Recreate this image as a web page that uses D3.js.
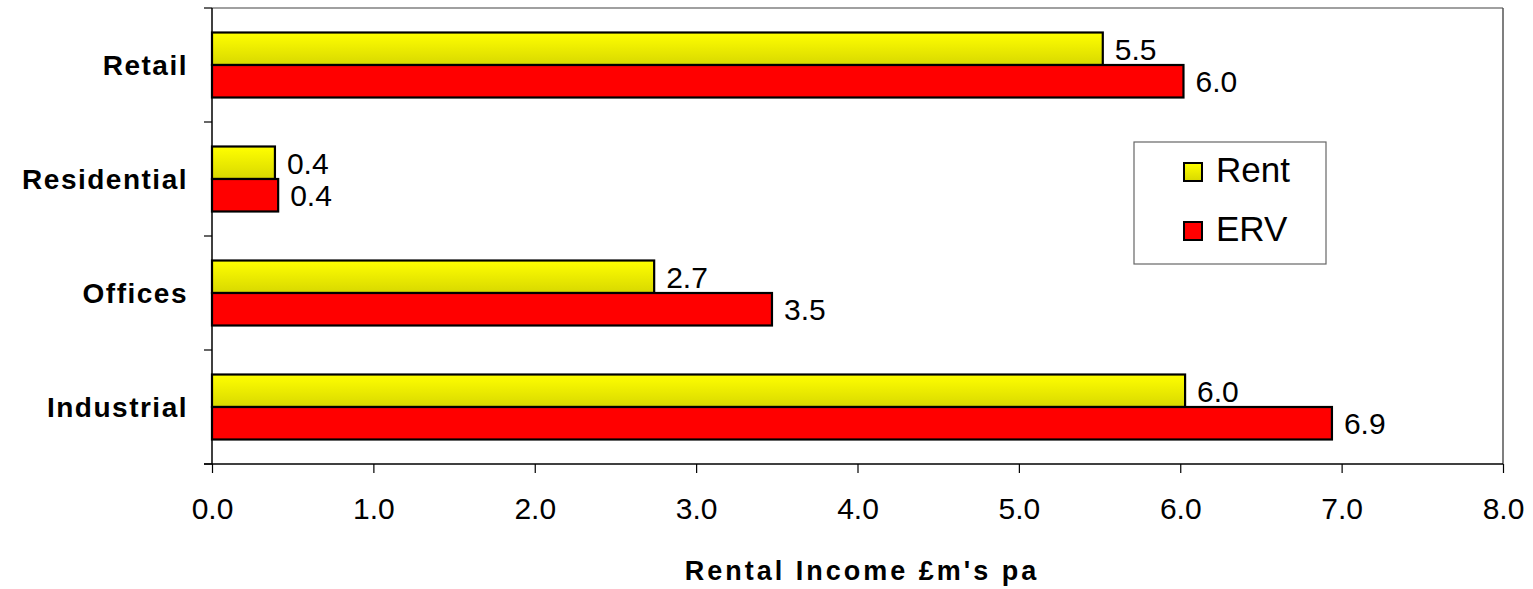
<!DOCTYPE html>
<html>
<head>
<meta charset="utf-8">
<script src="https://cdn.jsdelivr.net/npm/d3@7"></script>
<style>
  html, body { margin: 0; padding: 0; background: #fff; }
  svg { display: block; font-family: "Liberation Sans", Arial, sans-serif; }
</style>
</head>
<body>
<svg id="chart" width="1533" height="589"></svg>
<script>
// Rental income by sector, £m per annum
const categories = ["Retail", "Residential", "Offices", "Industrial"];
const seriesNames = ["Rent", "ERV"];
const rentValues = [5.52, 0.39, 2.74, 6.03];
const ervValues = [6.02, 0.41, 3.47, 6.94];
const xTicks = [0, 1, 2, 3, 4, 5, 6, 7, 8];
const axisTitle = "Rental Income £m's pa";

(function () {
const svg = d3.select("#chart");
const plotLeft = 212, plotRight = 1503, plotTop = 8, plotBottom = 464;

const x = d3.scaleLinear().domain([0, 8]).range([plotLeft, plotRight]);
const y = d3.scaleBand().domain(categories).range([plotTop, plotBottom]);
const sub = d3.scaleBand().domain(seriesNames).range([0, y.bandwidth()]).paddingInner(0).paddingOuter(0.754);

const defs = svg.append("defs");
const grad = defs.append("linearGradient").attr("id", "rentFill")
  .attr("x1", 0).attr("y1", 0).attr("x2", 0).attr("y2", 1);
grad.append("stop").attr("offset", "0%").attr("stop-color", "#ffff00");
grad.append("stop").attr("offset", "100%").attr("stop-color", "#d8d800");

const fills = { Rent: "url(#rentFill)", ERV: "#ff0000" };

// Plot frame: grey top and right edges
svg.append("line").attr("x1", plotLeft).attr("x2", plotRight).attr("y1", plotTop).attr("y2", plotTop)
  .attr("stroke", "#808080").attr("stroke-width", 1.5);
svg.append("line").attr("x1", plotRight).attr("x2", plotRight).attr("y1", plotTop).attr("y2", plotBottom)
  .attr("stroke", "#555").attr("stroke-width", 1.5);

// Bars
const rows = categories.map((c, i) => ({ cat: c, Rent: rentValues[i], ERV: ervValues[i] }));
const fmt = d3.format(".1f");
const groups = svg.append("g").selectAll("g").data(rows).join("g")
  .attr("transform", d => `translate(0,${y(d.cat)})`);

groups.selectAll("rect").data(d => seriesNames.map(s => ({ s, v: d[s] }))).join("rect")
  .attr("x", x(0))
  .attr("y", d => sub(d.s))
  .attr("width", d => x(d.v) - x(0))
  .attr("height", sub.bandwidth())
  .attr("fill", d => fills[d.s])
  .attr("stroke", "#000")
  .attr("stroke-width", 2.2);

groups.selectAll("text").data(d => seriesNames.map(s => ({ s, v: d[s] }))).join("text")
  .attr("x", d => x(d.v) + 12)
  .attr("y", d => sub(d.s) + sub.bandwidth() / 2 + 11)
  .attr("font-size", 30)
  .attr("fill", "#000")
  .text(d => fmt(d.v));

// Y axis (categories)
const yAxis = d3.axisLeft(y).tickSize(0).tickFormat("");
const yg = svg.append("g").attr("transform", `translate(${plotLeft},0)`).call(yAxis);
yg.select(".domain").attr("stroke", "#000").attr("stroke-width", 1.5).attr("d", `M0,${plotTop}V${plotBottom}`);
// tick marks at band boundaries
svg.append("g").selectAll("line").data(categories.concat([null])).join("line")
  .attr("x1", plotLeft - 8).attr("x2", plotLeft)
  .attr("y1", (d, i) => plotTop + i * y.step()).attr("y2", (d, i) => plotTop + i * y.step())
  .attr("stroke", "#000").attr("stroke-width", 1.2);

svg.append("g").selectAll("text").data(categories).join("text")
  .attr("x", 188)
  .attr("y", d => y(d) + y.bandwidth() / 2 + 10)
  .attr("text-anchor", "end")
  .attr("font-size", 28)
  .attr("font-weight", "bold")
  .attr("letter-spacing", "1.5px")
  .text(d => d);

// X axis
const xAxis = d3.axisBottom(x).tickValues(xTicks).tickSize(9).tickPadding(0).tickFormat(fmt);
const xg = svg.append("g").attr("transform", `translate(0,${plotBottom})`).call(xAxis);
xg.select(".domain").attr("stroke", "#000").attr("stroke-width", 1.5).attr("d", `M${plotLeft - 8},0H${plotRight}`);
xg.selectAll(".tick line").attr("stroke", "#000").attr("stroke-width", 1.2);
xg.selectAll(".tick text").attr("font-size", 30).attr("fill", "#000")
  .attr("font-family", "Liberation Sans, Arial, sans-serif")
  .attr("dy", null).attr("y", 55);

svg.append("text")
  .attr("x", 862).attr("y", 580)
  .attr("text-anchor", "middle")
  .attr("font-size", 27)
  .attr("font-weight", "bold")
  .attr("letter-spacing", "3px")
  .text(axisTitle);

// Legend
const lg = svg.append("g");
lg.append("rect").attr("x", 1134).attr("y", 142).attr("width", 192).attr("height", 122)
  .attr("fill", "#fff").attr("stroke", "#666").attr("stroke-width", 1.2);
const legendY = d3.scalePoint().domain(seriesNames).range([182, 241]);
const items = lg.selectAll("g").data(seriesNames).join("g");
items.append("rect")
  .attr("x", 1184).attr("y", d => legendY(d) - 19)
  .attr("width", 18).attr("height", 18)
  .attr("fill", d => fills[d]).attr("stroke", "#000").attr("stroke-width", 2);
items.append("text")
  .attr("x", 1216).attr("y", d => legendY(d))
  .attr("font-size", 35)
  .text(d => d);
})();
</script>
</body>
</html>
